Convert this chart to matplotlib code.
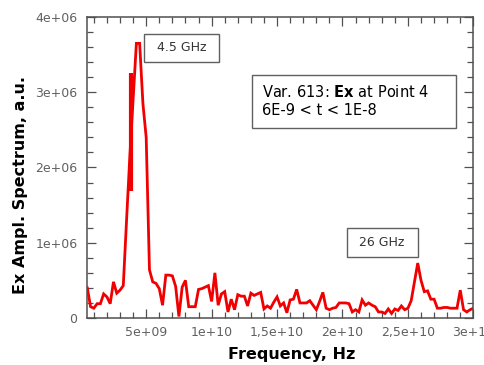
import numpy as np
import matplotlib
matplotlib.use("Agg")
import matplotlib.pyplot as plt
from matplotlib.patches import Rectangle
from matplotlib.ticker import MultipleLocator

# frequency grid: 0.5 GHz .. 30 GHz, step 0.25 GHz
freq = 0.5e9 + 0.25e9*np.arange(119)

# Ex amplitude spectrum (in units of 1e6)
amp = [0.40, 0.15, 0.13, 0.19, 0.19, 0.32, 0.28, 0.19, 0.48, 0.33,
       0.37, 0.43, 1.30, 2.15, 2.90, 3.65, 3.65, 2.85, 2.40, 0.64,
       0.48, 0.46, 0.39, 0.17, 0.57, 0.57, 0.56, 0.42, 0.02, 0.41,
       0.50, 0.15, 0.15, 0.15, 0.38, 0.39, 0.41, 0.43, 0.22, 0.60,
       0.17, 0.32, 0.35, 0.08, 0.25, 0.11, 0.31, 0.29, 0.29, 0.16,
       0.33, 0.30, 0.32, 0.34, 0.12, 0.16, 0.13, 0.21, 0.28, 0.16,
       0.20, 0.07, 0.24, 0.25, 0.38, 0.20, 0.20, 0.20, 0.23, 0.17,
       0.11, 0.22, 0.34, 0.13, 0.11, 0.13, 0.14, 0.20, 0.20, 0.20,
       0.19, 0.08, 0.11, 0.08, 0.24, 0.17, 0.20, 0.17, 0.15, 0.08,
       0.08, 0.06, 0.12, 0.06, 0.12, 0.10, 0.16, 0.11, 0.13, 0.23,
       0.48, 0.73, 0.50, 0.35, 0.36, 0.25, 0.25, 0.13, 0.13, 0.14,
       0.14, 0.13, 0.13, 0.13, 0.37, 0.11, 0.08, 0.11, 0.13]
amp = np.array(amp)*1e6

# stray vertical segment near the main peak
bar_freq = [3.85e9, 3.85e9]
bar_amp = [1.69e6, 3.26e6]

xticks = [5e9, 1e10, 1.5e10, 2e10, 2.5e10, 3e10]
xticklabels = ["5e+09", "1e+10", "1,5e+10", "2e+10", "2,5e+10", "3e+10"]
yticks = [0, 1e6, 2e6, 3e6, 4e6]
yticklabels = ["0", "1e+06", "2e+06", "3e+06", "4e+06"]

fig = plt.figure(figsize=(4.85, 3.65), dpi=100)
ax = fig.add_axes([0.180, 0.1288, 0.796, 0.8246])

red = "#f00000"
ax.plot(freq, amp, color=red, lw=2.0, solid_joinstyle="miter")
ax.plot(bar_freq, bar_amp, color=red, lw=3.0, solid_capstyle="butt")

ax.set_xlim(0.5e9, 3e10)
ax.set_ylim(0, 4e6)
ax.set_xticks(xticks)
ax.set_xticklabels(xticklabels)
ax.set_yticks(yticks)
ax.set_yticklabels(yticklabels)
ax.xaxis.set_minor_locator(MultipleLocator(1e9))
ax.yaxis.set_minor_locator(MultipleLocator(2e5))

framecol = "#505050"
for sp in ax.spines.values():
    sp.set_color(framecol)
    sp.set_linewidth(1.1)
ax.tick_params(which="both", direction="in", top=True, right=True,
               color=framecol, width=0.9, labelcolor="#606060", labelsize=9)
ax.tick_params(which="major", length=6.5)
ax.tick_params(which="minor", length=4.3)
ax.tick_params(axis="x", pad=6)
ax.tick_params(axis="y", pad=7)

ax.set_xlabel("Frequency, Hz", fontsize=11.5, fontweight="bold")
ax.set_ylabel("Ex Ampl. Spectrum, a.u.", fontsize=11.5, fontweight="bold")
ax.xaxis.set_label_coords(0.53, -0.096)
ax.yaxis.set_label_coords(-0.153, 0.442)

boxcol = "#606060"
# peak labels
ax.add_patch(Rectangle((0.148, 0.851), 0.192, 0.094, transform=ax.transAxes,
                       fc="white", ec=boxcol, lw=1.0, zorder=4))
ax.text(0.2435, 0.899, "4.5 GHz", transform=ax.transAxes, ha="center",
        va="center", fontsize=9, color="#333333", zorder=5)
ax.add_patch(Rectangle((0.6724, 0.204), 0.183, 0.094, transform=ax.transAxes,
                       fc="white", ec=boxcol, lw=1.0, zorder=4))
ax.text(0.7635, 0.251, "26 GHz", transform=ax.transAxes, ha="center",
        va="center", fontsize=9, color="#333333", zorder=5)

# variable info box
ax.add_patch(Rectangle((0.4267, 0.630), 0.5285, 0.177, transform=ax.transAxes,
                       fc="white", ec=boxcol, lw=1.0, zorder=4))
ax.text(0.452, 0.7525, r"Var. 613: $\bf{Ex}$ at Point 4", transform=ax.transAxes,
        ha="left", va="center", fontsize=10.5, color="black", zorder=5)
ax.text(0.452, 0.688, "6E-9 < t < 1E-8", transform=ax.transAxes,
        ha="left", va="center", fontsize=10.5, color="black", zorder=5)

fig.savefig("out.png", dpi=100)
